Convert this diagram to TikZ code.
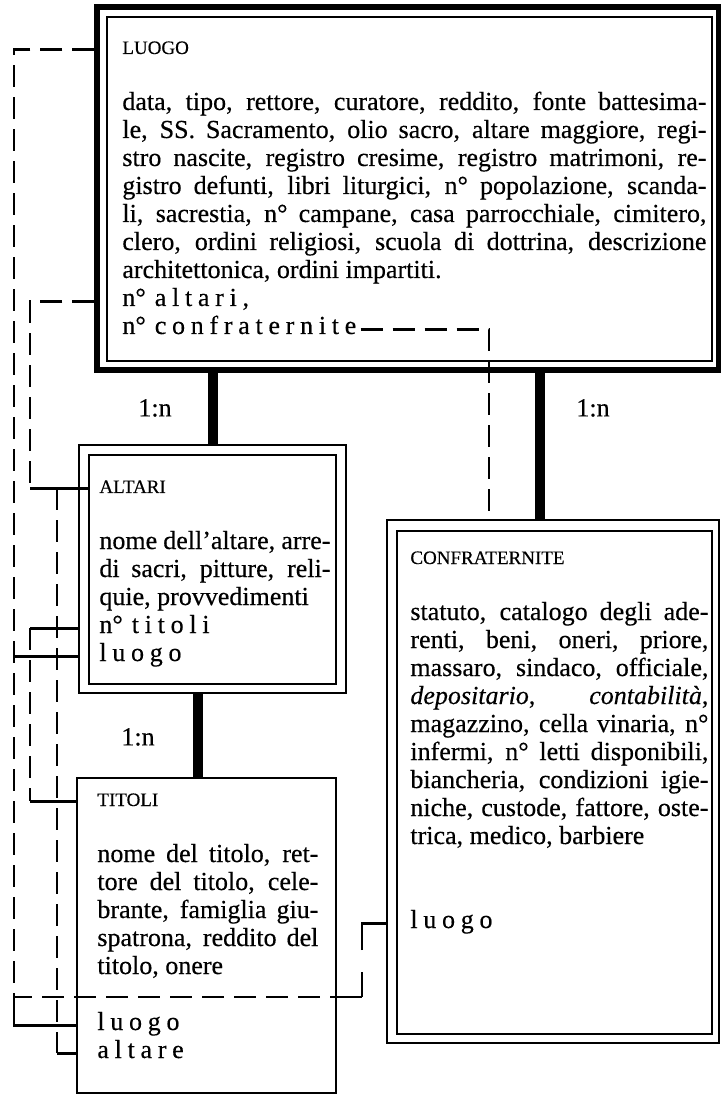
\documentclass[tikz,border=0pt]{standalone}
\usepackage{fontspec}
\setmainfont{Liberation Serif}[FakeBold=0.4]
\newfontfamily\spacedfamily[LetterSpace=22,FakeBold=0.4]{Liberation Serif}
\usetikzlibrary{calc,fit}

\newcommand\bodyfont{\fontsize{13}{14}\selectfont\tolerance=10000 \hyphenpenalty=10000 }
\newcommand\titlefont{\fontsize{9.5}{11}\selectfont}
\newcommand\keyfont{\spacedfamily\fontsize{13}{14}\selectfont}
\newcommand\nro{{\rmfamily n°}\hspace{4.5pt}}

\begin{document}
\begin{tikzpicture}[x=0.5pt,y=-0.5pt,
  frame/.style={draw,inner sep=0pt,line width=1.1pt},
  heavyframe/.style={frame,line width=2.6pt},
  entity/.style={anchor=base west,inner sep=0pt,font=\titlefont},
  attrs/.style={anchor=base west,inner sep=0pt,align=justify,font=\bodyfont},
  keyattr/.style={anchor=base west,inner sep=0pt,font=\keyfont},
  card/.style={inner sep=0pt,font=\bodyfont},
  rel/.style={line width=5pt},
  ref/.style={line width=1.4pt,dash pattern=on 11pt off 5pt},
  refend/.style={line width=1.4pt}]

  \useasboundingbox (0,0) rectangle (721,1095);

  % entity boxes
  \node[heavyframe,fit={(97,7) (719,370)}] (luogo) {};
  \node[frame,fit={(107,17) (712,361)}] (luogoIn) {};
  \node[frame,fit={(79,445) (346,693)}] (altari) {};
  \node[frame,fit={(89,455) (336,684)}] (altariIn) {};
  \node[frame,fit={(77,778) (336,1093)}] (titoli) {};
  \node[frame,fit={(387,520) (719,1043)}] (confr) {};
  \node[frame,fit={(397,531) (712,1034)}] (confrIn) {};

  % LUOGO
  \node[entity] (luogoTitle) at (122,54) {LUOGO};
  \node[attrs,text width=292pt] (luogoText) at (122,110) {data, tipo, rettore, curatore, reddito, fonte battesima-\linebreak
    le, SS. Sacramento, olio sacro, altare maggiore, regi-\linebreak
    stro nascite, registro cresime, registro matrimoni, re-\linebreak
    gistro defunti, libri liturgici, n° popolazione, scanda-\linebreak
    li, sacrestia, n° campane, casa parrocchiale, cimitero,\linebreak
    clero, ordini religiosi, scuola di dottrina, descrizione\linebreak
    architettonica, ordini impartiti.};
  \node[keyattr] (nAltari) at (122,306) {\nro altari,};
  \node[keyattr] (nConfr) at (122,334) {\nro confraternite};

  % ALTARI
  \node[entity] (altariTitle) at (99,493) {ALTARI};
  \node[attrs,text width=115.5pt] (altariText) at (99,549) {nome dell’altare, arre-\linebreak
    di sacri, pitture, reli-\linebreak
    quie, provvedimenti};
  \node[keyattr] (nTitoli) at (99,633) {\nro titoli};
  \node[keyattr] (altariLuogo) at (99,661) {luogo};

  % TITOLI
  \node[entity] (titoliTitle) at (97,806) {TITOLI};
  \node[attrs,text width=110.5pt] (titoliText) at (97,862) {nome del titolo, ret-\linebreak
    tore del titolo, cele-\linebreak
    brante, famiglia giu-\linebreak
    spatrona, reddito del\linebreak
    titolo, onere};
  \node[keyattr] (titoliLuogo) at (97,1030) {luogo};
  \node[keyattr] (titoliAltare) at (97,1058) {altare};

  % CONFRATERNITE
  \node[entity] (confrTitle) at (410,564) {CONFRATERNITE};
  \node[attrs,text width=149pt] (confrText) at (410,620) {statuto, catalogo degli ade-\linebreak
    renti, beni, oneri, priore,\linebreak
    massaro, sindaco, officiale,\linebreak
    \textit{depositario}, \textit{contabilità},\linebreak
    magazzino, cella vinaria, n°\linebreak
    infermi, n° letti disponibili,\linebreak
    biancheria, condizioni igie-\linebreak
    niche, custode, fattore, oste-\linebreak
    trica, medico, barbiere};
  \node[keyattr] (confrLuogo) at (410,928) {luogo};

  % relationships
  \node[card] (card1) at (155,408) {1:n};
  \node[card] (card2) at (593,408) {1:n};
  \node[card] (card3) at (138,737) {1:n};
  \draw[rel] (luogo.south -| altari.north) -- (altari.north);
  \draw[rel] ([xshift=-6.5pt]confr.north |- luogo.south) -- ([xshift=-6.5pt]confr.north);
  \draw[rel] ([xshift=-4.25pt]titoli.north |- altari.south) -- ([xshift=-4.25pt]titoli.north);

  % references
  \coordinate (railA) at (14,0);
  \coordinate (railB) at (30,0);
  \coordinate (railC) at (57,0);
  \coordinate (cfLink) at (362,997);
  \draw[ref] (luogo.west |- luogoTitle.mid) -| (railA |- cfLink) -- (titoli.east |- cfLink);
  \draw[refend] (railA |- cfLink) |- (titoli.west |- titoliLuogo.mid);
  \draw[refend] (railA |- altariLuogo.mid) -- (altari.west |- altariLuogo.mid);
  \draw[refend] (titoli.east |- cfLink) -- (cfLink);
  \draw[ref,dash pattern=on 12.5pt off 11pt on 40pt off 1pt] (cfLink) |- (confr.west |- confrLuogo.mid);
  \draw[ref] (luogo.west |- nAltari.mid) -| (railB |- altariTitle.mid);
  \draw[refend] (railB |- altariTitle.mid) -- (altariIn.west |- altariTitle.mid);
  \draw[ref] (railC |- altariTitle.mid) -- (railC |- titoliAltare.mid);
  \draw[refend] (railC |- titoliAltare.mid) -- (titoli.west |- titoliAltare.mid);
  \draw[refend] (altari.west |- nTitoli.mid) -- (railB |- nTitoli.mid);
  \draw[ref] (railB |- nTitoli.mid) -- (railB |- titoliTitle.mid);
  \draw[refend] (railB |- titoliTitle.mid) -- (titoli.west |- titoliTitle.mid);
  \draw[ref] ([xshift=2pt]nConfr.mid east) -| ([xshift=-32pt]confr.north);
\end{tikzpicture}
\end{document}
